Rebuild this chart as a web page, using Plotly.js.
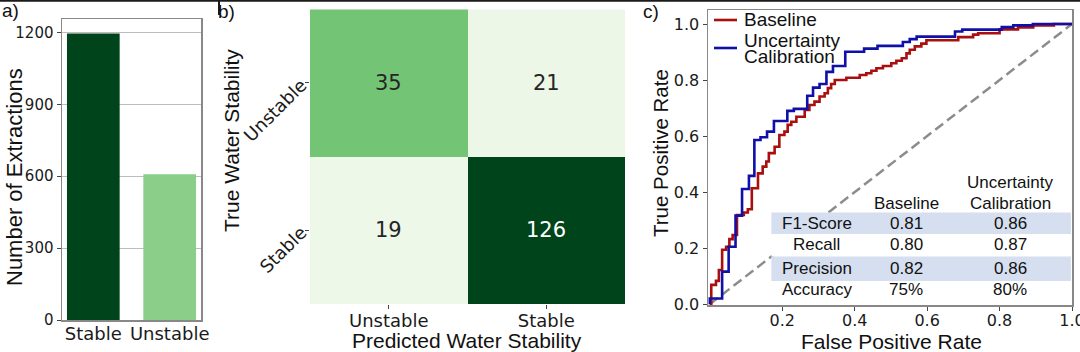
<!DOCTYPE html>
<html>
<head>
<meta charset="utf-8">
<script src="https://cdn.plot.ly/plotly-3.0.1.min.js"></script>
<style>html,body{margin:0;padding:0;background:#fff;}#chart{width:1080px;height:352px;}</style>
</head>
<body>
<div id="chart"></div>
<script>
// ---- Panel a data ----
const barCategories = ['Stable', 'Unstable'];
const barCounts = [1195, 608];
const barColors = ['#00441b', '#8bce89'];

// ---- Panel b data (confusion matrix) ----
const cmPredicted = ['Unstable', 'Stable'];
const cmTrue = ['Unstable', 'Stable'];
const cmCounts = [[35, 21], [19, 126]];

// ---- Panel c data (ROC curves) ----
const baselineFPR = [0, 0.004, 0.017, 0.025, 0.034, 0.045, 0.054, 0.063, 0.075, 0.094, 0.105, 0.116, 0.133, 0.146, 0.156, 0.163, 0.179, 0.192, 0.206, 0.215, 0.225, 0.239, 0.262, 0.275, 0.289, 0.303, 0.317, 0.326, 0.335, 0.345, 0.377, 0.414, 0.432, 0.446, 0.46, 0.478, 0.501, 0.515, 0.53, 0.543, 0.552, 0.566, 0.584, 0.598, 0.686, 0.727, 0.741, 0.80, 0.851, 0.893, 0.95, 1.0];
const baselineTPR = [0, 0.069, 0.083, 0.122, 0.194, 0.205, 0.232, 0.247, 0.318, 0.327, 0.339, 0.414, 0.467, 0.491, 0.509, 0.539, 0.562, 0.604, 0.616, 0.64, 0.651, 0.669, 0.693, 0.711, 0.723, 0.741, 0.753, 0.771, 0.786, 0.80, 0.808, 0.818, 0.824, 0.833, 0.842, 0.85, 0.86, 0.869, 0.878, 0.895, 0.908, 0.92, 0.93, 0.942, 0.953, 0.962, 0.967, 0.981, 0.988, 0.995, 1.0, 1.0];
const calibFPR = [0, 0, 0.034, 0.052, 0.071, 0.089, 0.108, 0.123, 0.140, 0.158, 0.177, 0.214, 0.232, 0.269, 0.285, 0.303, 0.322, 0.34, 0.374, 0.426, 0.463, 0.533, 0.552, 0.571, 0.677, 0.697, 0.806, 0.838, 0.892, 1.0];
const calibTPR = [0, 0.02, 0.116, 0.205, 0.316, 0.411, 0.458, 0.586, 0.596, 0.616, 0.654, 0.69, 0.697, 0.744, 0.773, 0.786, 0.829, 0.85, 0.901, 0.912, 0.922, 0.936, 0.946, 0.955, 0.973, 0.98, 0.989, 0.995, 1.0, 1.0];
const chanceLine = [0, 1];
const seriesNames = ['Baseline', 'Uncertainty', 'Calibration'];

// ---- Panel c table ----
const tableHeaders = ['Baseline', 'Uncertainty', 'Calibration'];
const tableRows = ['F1-Score', 'Recall', 'Precision', 'Accuracy'];
const baselineMetrics = ['0.81', '0.80', '0.82', '75%'];
const calibMetrics = ['0.86', '0.87', '0.86', '80%'];

const TICK = 'DejaVu Sans, sans-serif';
const ARIAL = 'Liberation Sans, Arial, sans-serif';
const W = 1080, H = 352;
const px = v => v / W;
const py = v => 1 - v / H;
const RED = '#a81010', BLUE = '#1010a8';

const traces = [
  {
    type: 'bar', x: barCategories, y: barCounts, width: 0.69,
    marker: {color: barColors, line: {width: 0}},
    xaxis: 'x', yaxis: 'y', showlegend: false
  },
  {
    type: 'heatmap', x: cmPredicted, y: cmTrue, z: cmCounts,
    zmin: 19, zmax: 126, showscale: false,
    colorscale: [[0, '#edf8e9'], [0.0187, '#ecf7e8'], [0.1495, '#74c476'], [1, '#00441b']],
    xaxis: 'x2', yaxis: 'y2'
  },
  {
    type: 'scatter', mode: 'lines', x: chanceLine, y: chanceLine,
    line: {color: '#8c8c8c', width: 2.5, dash: '10px,5px'},
    xaxis: 'x3', yaxis: 'y3', showlegend: false
  },
  {
    type: 'scatter', mode: 'lines', name: 'Baseline', x: baselineFPR, y: baselineTPR,
    line: {color: RED, width: 2.6, shape: 'hv'},
    xaxis: 'x3', yaxis: 'y3', showlegend: false
  },
  {
    type: 'scatter', mode: 'lines', name: 'Uncertainty Calibration', x: calibFPR, y: calibTPR,
    line: {color: BLUE, width: 2.6, shape: 'hv'},
    xaxis: 'x3', yaxis: 'y3', showlegend: false
  }
];

const annotations = [];
function note(o) {
  annotations.push(Object.assign({showarrow: false, xanchor: 'center', yanchor: 'middle'}, o));
}
// confusion matrix cell labels
cmTrue.forEach((r, i) => cmPredicted.forEach((c, j) => {
  const v = cmCounts[i][j];
  note({x: c, y: r, xref: 'x2', yref: 'y2', text: String(v),
    font: {family: TICK, size: 21, color: v > 60 ? '#ffffff' : '#262626'}});
}));
// table
const tfont = {family: ARIAL, size: 17, color: '#111'};
const rowY = [0.288, 0.212, 0.128, 0.051];
const colX = [0.295, 0.543, 0.829];
tableRows.forEach((r, i) => {
  [r, baselineMetrics[i], calibMetrics[i]].forEach((t, k) => {
    note({x: colX[k], y: rowY[i], xref: 'x3', yref: 'y3', text: t, font: tfont});
  });
});
note({x: colX[1], y: 0.361, xref: 'x3', yref: 'y3', text: tableHeaders[0], font: tfont});
note({x: colX[2], y: 0.436, xref: 'x3', yref: 'y3', text: tableHeaders[1], font: tfont});
note({x: colX[2], y: 0.361, xref: 'x3', yref: 'y3', text: tableHeaders[2], font: tfont});

// legend (manual)
const lfont = {family: ARIAL, size: 19, color: '#111'};
note({x: px(742), y: py(20), xref: 'paper', yref: 'paper', xanchor: 'left', text: seriesNames[0], font: lfont});
note({x: px(742), y: py(40), xref: 'paper', yref: 'paper', xanchor: 'left', text: seriesNames[1], font: lfont});
note({x: px(742), y: py(57), xref: 'paper', yref: 'paper', xanchor: 'left', text: seriesNames[2], font: lfont});

// axis titles & panel labels
const titleFont = {family: ARIAL, size: 21, color: '#111'};
note({x: px(14), y: py(177), xref: 'paper', yref: 'paper', text: 'Number of Extractions', textangle: -90, font: {family: ARIAL, size: 22, color: '#111'}});
note({x: px(231), y: py(141), xref: 'paper', yref: 'paper', text: 'True Water Stability', textangle: -90, font: titleFont});
note({x: px(467), y: py(340), xref: 'paper', yref: 'paper', text: 'Predicted Water Stability', font: titleFont});
note({x: px(661), y: py(153), xref: 'paper', yref: 'paper', text: 'True Positive Rate', textangle: -90, font: {family: ARIAL, size: 20.5, color: '#111'}});
note({x: px(891), y: py(341), xref: 'paper', yref: 'paper', text: 'False Positive Rate', font: titleFont});
note({x: px(0), y: py(10), xref: 'paper', yref: 'paper', xanchor: 'left', text: 'a)', font: {family: ARIAL, size: 19, color: '#111'}});
note({x: px(216), y: py(12), xref: 'paper', yref: 'paper', xanchor: 'left', text: 'b)', font: {family: ARIAL, size: 19, color: '#111'}});
note({x: px(641), y: py(11), xref: 'paper', yref: 'paper', xanchor: 'left', text: 'c)', font: {family: ARIAL, size: 19, color: '#111'}});

const shapes = [
  {type: 'rect', xref: 'x3', yref: 'y3', x0: 0.17, x1: 0.997, y0: 0.25, y1: 0.327, fillcolor: '#d5dff0', line: {width: 0}, layer: 'above'},
  {type: 'rect', xref: 'x3', yref: 'y3', x0: 0.17, x1: 0.997, y0: 0.17, y1: 0.25, fillcolor: '#ffffff', line: {width: 0}, layer: 'above'},
  {type: 'rect', xref: 'x3', yref: 'y3', x0: 0.17, x1: 0.997, y0: 0.083, y1: 0.17, fillcolor: '#d5dff0', line: {width: 0}, layer: 'above'},
  // legend samples
  {type: 'line', xref: 'paper', yref: 'paper', x0: px(714), x1: px(737), y0: py(20), y1: py(20), line: {color: RED, width: 2.6}},
  {type: 'line', xref: 'paper', yref: 'paper', x0: px(714), x1: px(737), y0: py(48), y1: py(48), line: {color: BLUE, width: 2.6}},
  // page border bits
  {type: 'line', xref: 'paper', yref: 'paper', x0: 0, x1: 1, y0: py(0.8), y1: py(0.8), line: {color: '#1a1a1a', width: 2}},
  {type: 'line', xref: 'paper', yref: 'paper', x0: px(219), x1: px(219), y0: 1, y1: py(15), line: {color: '#1a1a1a', width: 2}}
];

const frame = {showline: true, mirror: true, linecolor: '#888', linewidth: 1.5};

const layout = {
  width: W, height: H,
  margin: {l: 0, r: 0, t: 0, b: 0},
  paper_bgcolor: '#fff', plot_bgcolor: '#fff',
  font: {family: TICK, color: '#1a1a1a'},
  showlegend: false,
  xaxis: Object.assign({domain: [px(62), px(201)], type: 'category', range: [-0.41, 1.41],
    tickfont: {family: TICK, size: 18, color: '#1a1a1a'}, ticks: '', showgrid: false, anchor: 'y',
    ticklabelstandoff: -3, ticklabeloverflow: 'allow'}, frame),
  yaxis: Object.assign({domain: [py(320), py(19)], range: [0, 1256], tickvals: [0, 300, 600, 900, 1200],
    tickfont: {family: TICK, size: 15, color: '#1a1a1a'}, ticks: 'outside', ticklen: 4, tickcolor: '#444',
    showgrid: true, gridcolor: '#bdbdbd', gridwidth: 1, zeroline: false, anchor: 'x', ticklabeloverflow: 'allow'}, frame),
  xaxis2: {domain: [px(310), px(625)], type: 'category', range: [-0.5, 1.5], anchor: 'y2',
    tickfont: {family: TICK, size: 18, color: '#1a1a1a'}, ticks: 'outside', ticklen: 4, tickcolor: '#444',
    showgrid: false, zeroline: false, showline: false, ticklabelstandoff: -4, ticklabeloverflow: 'allow'},
  yaxis2: {domain: [py(304), py(9.3)], type: 'category', range: [1.5, -0.5], anchor: 'x2',
    tickfont: {family: TICK, size: 18, color: '#1a1a1a'}, ticks: 'outside', ticklen: 4, tickcolor: '#444', tickangle: -45,
    showgrid: false, zeroline: false, showline: false, ticklabeloverflow: 'allow'},
  xaxis3: Object.assign({domain: [px(708), px(1072)], range: [-0.005, 1.0], anchor: 'y3',
    tickvals: [0.2, 0.4, 0.6, 0.8, 1.0], ticktext: ['0.2', '0.4', '0.6', '0.8', '1.0'],
    tickfont: {family: TICK, size: 16, color: '#1a1a1a'}, ticks: 'outside', ticklen: 4, tickcolor: '#444',
    showgrid: false, zeroline: false, ticklabelstandoff: -4, ticklabeloverflow: 'allow'}, frame),
  yaxis3: Object.assign({domain: [py(305), py(10)], range: [-0.003, 1.05], anchor: 'x3',
    tickvals: [0, 0.2, 0.4, 0.6, 0.8, 1.0], ticktext: ['0.0', '0.2', '0.4', '0.6', '0.8', '1.0'],
    tickfont: {family: TICK, size: 16, color: '#1a1a1a'}, ticks: 'outside', ticklen: 4, tickcolor: '#444',
    showgrid: false, zeroline: false, ticklabeloverflow: 'allow'}, frame),
  annotations: annotations,
  shapes: shapes
};

Plotly.newPlot('chart', traces, layout, {displayModeBar: false, staticPlot: true});
</script>
</body>
</html>
